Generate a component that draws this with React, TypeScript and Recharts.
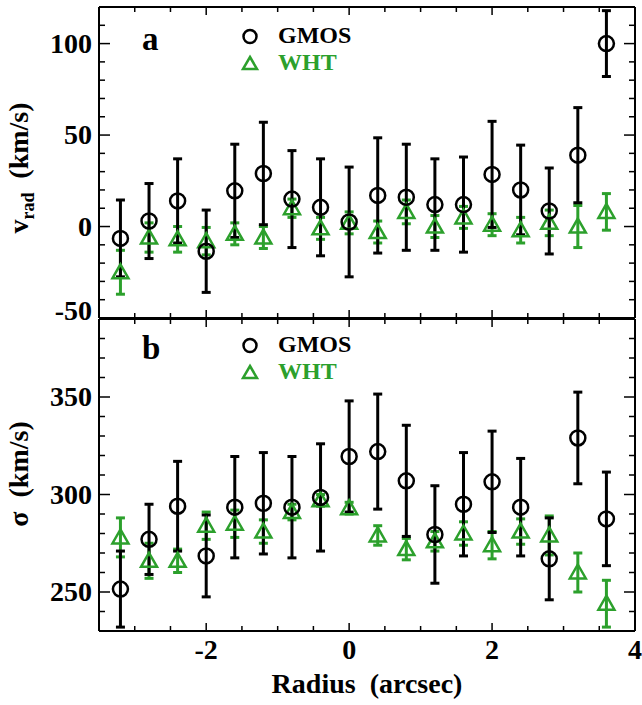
import { ComposedChart, ErrorBar, Scatter, XAxis, YAxis } from "recharts";

const radius = [-3.2, -2.8, -2.4, -2.0, -1.6, -1.2, -0.8, -0.4, 0, 0.4, 0.8, 1.2, 1.6, 2.0, 2.4, 2.8, 3.2, 3.6];

const gmosVel = [-6.5, 3, 14, -13.5, 19.5, 29, 15, 10.5, 2.5, 17, 16, 12, 12, 28.5, 20, 8.5, 39, 100];
const gmosVelErr = [21, 20.5, 23, 22.5, 25.5, 28, 26.5, 26.5, 30, 31.5, 29, 25, 26, 29, 24.5, 23.5, 26, 18];
const whtVel = [-25, -6, -7, -8, -4, -6, 10, -1, 2, -3, 8, 0, 5, 1, -2, 2, 0, 8];
const whtVelErr = [12, 8, 7, 7.5, 6, 6, 5, 6, 6, 6, 6.5, 6, 6, 6, 7, 7, 11.5, 10];

const gmosSig = [251.5, 277, 294, 268.5, 293.5, 295.5, 293.5, 298.5, 319.5, 322, 307, 279.5, 295, 306.5, 293.5, 267, 329, 287.5];
const gmosSigErr = [19.5, 18, 23, 21, 26, 26, 26, 27.5, 28.5, 29.5, 28.5, 25, 26.5, 26, 25, 21, 23.5, 24];
const whtSig = [278, 266, 266, 284, 285, 281, 291, 297, 293, 279, 272, 276, 280, 274, 281, 279, 260, 244];
const whtSigErr = [10, 9, 6, 7, 7, 6, 4, 3, 3, 5, 5.5, 5, 6, 7, 6.5, 10, 10, 12];

const xTicks = [-3.5, -3, -2.5, -2, -1.5, -1, -0.5, 0, 0.5, 1, 1.5, 2, 2.5, 3, 3.5, 4];
const xMajor = [-2, 0, 2, 4];
const velTicks = [-50, -40, -30, -20, -10, 0, 10, 20, 30, 40, 50, 60, 70, 80, 90, 100, 110, 120];
const velLabels = [-50, 0, 50, 100];
const sigTicks = [230, 240, 250, 260, 270, 280, 290, 300, 310, 320, 330, 340, 350, 360, 370, 380, 390];
const sigLabels = [250, 300, 350];

const FONT = "'Liberation Serif', 'Times New Roman', serif";
const GREEN = "#2ca02c";

const toRows = (ys: number[], errs: number[]) => radius.map((x, i) => ({ x, y: ys[i], err: errs[i] }));

const CircleMark = (p: any) => (
  <circle cx={p.cx} cy={p.cy} r={7.5} fill="none" stroke="#000" strokeWidth={2.5} />
);

const TriangleMark = (p: any) => (
  <path
    d={`M${p.cx},${p.cy - 8} L${p.cx + 8},${p.cy + 6} L${p.cx - 8},${p.cy + 6} Z`}
    fill="none"
    stroke={GREEN}
    strokeWidth={2.5}
  />
);

function yTick(labels: number[], side: "left" | "right", lowShift = 0) {
  return (props: any) => {
    const { x, y, payload } = props;
    const v = payload.value;
    const len = v % 50 === 0 ? 11 : 6;
    const dir = side === "left" ? 1 : -1;
    const show = side === "left" && labels.includes(v);
    return (
      <g>
        <line x1={x} x2={x + dir * len} y1={y} y2={y} stroke="#000" strokeWidth={1.5} />
        {show && (
          <text
            x={x - 7}
            y={y + 9 + (v === labels[0] ? lowShift : 0)}
            textAnchor="end"
            fontFamily={FONT}
            fontWeight={700}
            fontSize={28}
            fill="#000"
          >
            {v}
          </text>
        )}
      </g>
    );
  };
}

function xTick(side: "top" | "bottom", withLabels: boolean) {
  return (props: any) => {
    const { x, y, payload } = props;
    const v = payload.value;
    const len = xMajor.includes(v) ? 8 : 5;
    const dir = side === "bottom" ? -1 : 1;
    return (
      <g>
        <line x1={x} x2={x} y1={y} y2={y + dir * len} stroke="#000" strokeWidth={1.5} />
        {withLabels && xMajor.includes(v) && (
          <text x={x} y={y + 28} textAnchor="middle" fontFamily={FONT} fontWeight={700} fontSize={28} fill="#000">
            {v}
          </text>
        )}
      </g>
    );
  };
}

const axisLine = { stroke: "#000", strokeWidth: 2 };

function Panel(props: {
  width: number;
  height: number;
  margin: { top: number; right: number; bottom: number; left: number };
  bottomHeight: number;
  bottomLabels: boolean;
  domain: [number, number];
  ticks: number[];
  labels: number[];
  lowShift: number;
  gmos: { x: number; y: number; err: number }[];
  wht: { x: number; y: number; err: number }[];
}) {
  return (
    <ComposedChart width={props.width} height={props.height} margin={props.margin}>
      <XAxis
        dataKey="x"
        type="number"
        domain={[-3.5, 4]}
        ticks={xTicks}
        interval={0}
        allowDataOverflow
        height={props.bottomHeight}
        tickSize={0}
        tickMargin={0}
        axisLine={axisLine}
        tickLine={false}
        tick={xTick("bottom", props.bottomLabels)}
      />
      <XAxis
        xAxisId="top"
        orientation="top"
        dataKey="x"
        type="number"
        domain={[-3.5, 4]}
        ticks={xTicks}
        interval={0}
        allowDataOverflow
        height={1}
        tickSize={0}
        tickMargin={0}
        axisLine={axisLine}
        tickLine={false}
        tick={xTick("top", false)}
      />
      <YAxis
        dataKey="y"
        type="number"
        domain={props.domain}
        ticks={props.ticks}
        interval={0}
        allowDataOverflow
        width={99}
        tickSize={0}
        tickMargin={0}
        axisLine={axisLine}
        tickLine={false}
        tick={yTick(props.labels, "left", props.lowShift)}
      />
      <YAxis
        yAxisId="right"
        orientation="right"
        dataKey="y"
        type="number"
        domain={props.domain}
        ticks={props.ticks}
        interval={0}
        allowDataOverflow
        width={7}
        tickSize={0}
        tickMargin={0}
        axisLine={axisLine}
        tickLine={false}
        tick={yTick(props.labels, "right")}
      />
      <Scatter data={props.wht} shape={TriangleMark} isAnimationActive={false}>
        <ErrorBar dataKey="err" direction="y" width={4.5} stroke={GREEN} strokeWidth={3} />
      </Scatter>
      <Scatter data={props.gmos} shape={CircleMark} isAnimationActive={false}>
        <ErrorBar dataKey="err" direction="y" width={4.5} stroke="#000" strokeWidth={3} />
      </Scatter>
    </ComposedChart>
  );
}

function Key({ dy, tag }: { dy: number; tag: string }) {
  return (
    <g fontFamily={FONT} fontWeight={700}>
      <text x={142} y={50 + dy} fontSize={33} fill="#000">
        {tag}
      </text>
      <circle cx={250} cy={36.5 + dy} r={6.5} fill="none" stroke="#000" strokeWidth={2.5} />
      <text x={278} y={43 + dy} fontSize={24} fill="#000">
        GMOS
      </text>
      <path
        d={`M250,${57 + dy} L257,${69 + dy} L243,${69 + dy} Z`}
        fill="none"
        stroke={GREEN}
        strokeWidth={2.5}
      />
      <text x={278} y={70 + dy} fontSize={24} fill={GREEN}>
        WHT
      </text>
    </g>
  );
}

export default function App() {
  return (
    <div style={{ position: "absolute", left: 0, top: 0, width: 642, height: 705, background: "#fff" }}>
      <div style={{ position: "absolute", left: 0, top: 0 }}>
        <Panel
          width={642}
          height={340}
          margin={{ top: 6, right: 0, bottom: 21, left: 0 }}
          bottomHeight={1}
          bottomLabels={false}
          domain={[-50, 120]}
          ticks={velTicks}
          labels={velLabels}
          lowShift={-7}
          gmos={toRows(gmosVel, gmosVelErr)}
          wht={toRows(whtVel, whtVelErr)}
        />
      </div>
      <div style={{ position: "absolute", left: 0, top: 311 }}>
        <Panel
          width={642}
          height={394}
          margin={{ top: 7, right: 0, bottom: 0, left: 0 }}
          bottomHeight={74}
          bottomLabels={true}
          domain={[230, 390]}
          ticks={sigTicks}
          labels={sigLabels}
          lowShift={0}
          gmos={toRows(gmosSig, gmosSigErr)}
          wht={toRows(whtSig, whtSigErr)}
        />
      </div>
      <svg
        width={642}
        height={705}
        style={{ position: "absolute", left: 0, top: 0, pointerEvents: "none", overflow: "visible" }}
      >
        <Key dy={0} tag="a" />
        <Key dy={309} tag="b" />
        <text
          x={28}
          y={168}
          transform="rotate(-90, 28, 168)"
          textAnchor="middle"
          fontFamily={FONT}
          fontWeight={700}
          fontSize={28}
          fill="#000"
          style={{ whiteSpace: "pre" }}
        >
          <tspan>v</tspan>
          <tspan fontSize={18} dy={6}>rad</tspan>
          <tspan dy={-6}>{"  (km/s)"}</tspan>
        </text>
        <text
          x={28}
          y={474}
          transform="rotate(-90, 28, 474)"
          textAnchor="middle"
          fontFamily={FONT}
          fontWeight={700}
          fontSize={28}
          fill="#000"
          style={{ whiteSpace: "pre" }}
        >
          {"σ  (km/s)"}
        </text>
        <text
          x={367}
          y={693}
          textAnchor="middle"
          fontFamily={FONT}
          fontWeight={700}
          fontSize={28}
          fill="#000"
          style={{ whiteSpace: "pre" }}
        >
          {"Radius  (arcsec)"}
        </text>
      </svg>
    </div>
  );
}
